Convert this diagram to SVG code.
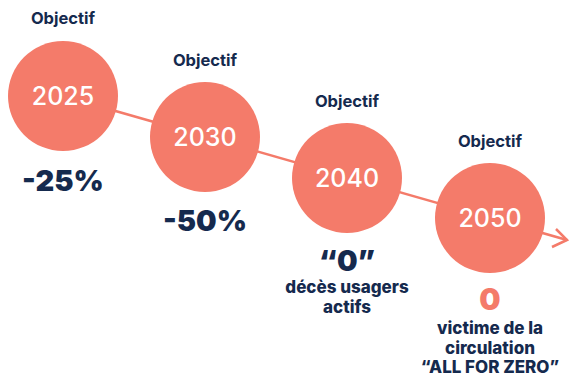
<svg xmlns="http://www.w3.org/2000/svg" width="569" height="377" viewBox="0 0 569 377">
<style>
.c{fill:#F47B6A}
.obj{font-family:"Inter","Liberation Sans",sans-serif;font-weight:700;font-size:16.5px;fill:#152A4E;text-anchor:middle}
.yr{font-family:"Inter","Liberation Sans",sans-serif;font-weight:500;font-size:25px;fill:#fff;text-anchor:middle}
.big{font-family:"Inter","Liberation Sans",sans-serif;font-weight:900;font-size:29px;fill:#152A4E;text-anchor:middle}
.sub{font-family:"Inter","Liberation Sans",sans-serif;font-weight:800;font-size:17px;fill:#152A4E;text-anchor:middle}
</style>
<rect width="569" height="377" fill="#fff"/>
<g id="connectors" stroke="#F47B6A" stroke-width="2.5" fill="none">
<line x1="63" y1="96" x2="567" y2="240"/>
<polyline points="556,229 567,240 552,247"/>
</g>
<g id="n2025">
<circle class="c" cx="63" cy="96" r="55"/>
<text class="obj" x="63" y="24">Objectif</text>
<text class="yr" x="63" y="105">2025</text>
<text class="big" x="63" y="191">-25%</text>
</g>
<g id="n2030">
<circle class="c" cx="205" cy="137" r="55"/>
<text class="obj" x="205" y="66">Objectif</text>
<text class="yr" x="205" y="146">2030</text>
<text class="big" x="205" y="231">-50%</text>
</g>
<g id="n2040">
<circle class="c" cx="347" cy="178" r="55"/>
<text class="obj" x="347" y="107">Objectif</text>
<text class="yr" x="347" y="187">2040</text>
<text class="big" x="347" y="271">“0”</text>
<text class="sub" x="347" y="293">décès usagers</text>
<text class="sub" x="347" y="313">actifs</text>
</g>
<g id="n2050">
<circle class="c" cx="490" cy="218" r="55"/>
<text class="obj" x="490" y="147">Objectif</text>
<text class="yr" x="490" y="227">2050</text>
<text class="big" x="490" y="310" style="fill:#F47B6A;font-size:30px">0</text>
<text class="sub" x="490" y="334">victime de la</text>
<text class="sub" x="490" y="354">circulation</text>
<text class="sub" x="490" y="373">“ALL FOR ZERO”</text>
</g>
</svg>
